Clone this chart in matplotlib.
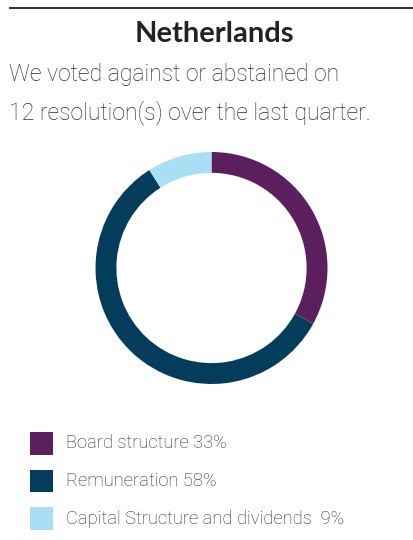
import matplotlib
matplotlib.use("Agg")
import matplotlib.pyplot as plt
from matplotlib.patches import Rectangle
from matplotlib.lines import Line2D

title = "Netherlands"
subtitle_lines = ["We voted against or abstained on", "12 resolution(s) over the last quarter."]
categories = ["Board structure", "Remuneration", "Capital Structure and dividends "]
values = [33, 58, 9]
colors = ["#5C1F5E", "#033D5B", "#A8DFF4"]

W, H = 414, 540
fig = plt.figure(figsize=(W / 100, H / 100), dpi=100)
fig.patch.set_facecolor("white")

txt_color = "#2e2e2e"
fam = ["Roboto", "DejaVu Sans"]

# top rule
fig.add_artist(Line2D([10 / W, 1], [1 - 8 / H, 1 - 8 / H], color="#222222", lw=1.3))

fig.text(214 / W, 1 - 34 / H, title, ha="center", va="center", fontsize=21,
         fontweight="bold", color="#222222", family=["Lato", "DejaVu Sans"])
for i, line in enumerate(subtitle_lines):
    fig.text(9 / W, 1 - (74 + 39 * i) / H, line, ha="left", va="center", fontsize=16.6,
             fontweight="light", color=txt_color, family=fam)

# donut
cx, cy, r = 211.5, 268, 116
ax = fig.add_axes([(cx - r) / W, 1 - (cy + r) / H, 2 * r / W, 2 * r / H])
ax.pie(values, colors=colors, startangle=90, counterclock=False, radius=1,
       wedgeprops=dict(width=0.18, edgecolor="none"))
ax.set_xlim(-1, 1)
ax.set_ylim(-1, 1)
ax.set_aspect("equal")
ax.axis("off")

# legend
for i, (cat, v, c) in enumerate(zip(categories, values, colors)):
    yc = 443.5 + 37.5 * i
    fig.add_artist(Rectangle((30 / W, 1 - (yc + 11.3) / H), 22.7 / W, 22.7 / H,
                             facecolor=c, edgecolor="none", transform=fig.transFigure))
    fig.text(66 / W, 1 - yc / H, f"{cat} {v}%", ha="left", va="center", fontsize=13.2,
             fontweight="light", color=txt_color, family=fam)

fig.savefig("out.png", dpi=100, facecolor="white")
